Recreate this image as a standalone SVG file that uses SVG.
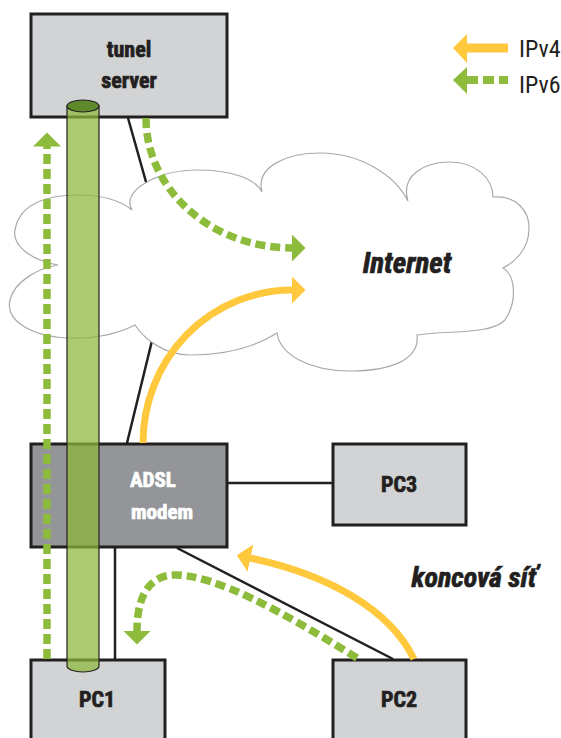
<svg xmlns="http://www.w3.org/2000/svg" width="561" height="738" viewBox="0 0 561 738">
<defs>
<style>
.box{fill:#d1d3d4;stroke:#231f20;stroke-width:3}
.modem{fill:#939598;stroke:#231f20;stroke-width:3}
.wire{fill:none;stroke:#231f20;stroke-width:2.5}
.v4{fill:none;stroke:#ffc83d;stroke-width:7}
.v6{fill:none;stroke:#8dbb3b;stroke-width:7.5;stroke-dasharray:10 5}
.lbl{font-family:"Liberation Sans Narrow","Roboto Condensed","DejaVu Sans Condensed","Liberation Sans",sans-serif;font-stretch:condensed;font-weight:bold;fill:#231f20;stroke:#231f20;stroke-width:0.7}
.wt{fill:#fff;stroke:#fff}
.it{font-style:italic}
.leg{font-family:"Liberation Sans Narrow","Roboto Condensed","DejaVu Sans Condensed","Liberation Sans",sans-serif;font-stretch:condensed;fill:#231f20;font-size:24px}
</style>
<marker id="ay" markerUnits="userSpaceOnUse" markerWidth="16" markerHeight="30" refX="0.5" refY="14" orient="auto" viewBox="0 0 16 30"><path d="M0,0 L14,14 L0,28 Z" fill="#ffc83d"/></marker>
<marker id="ag" markerUnits="userSpaceOnUse" markerWidth="16" markerHeight="30" refX="0.5" refY="14" orient="auto" viewBox="0 0 16 30"><path d="M0,0 L14,14 L0,28 Z" fill="#8dbb3b"/></marker>
</defs>
<rect width="561" height="738" fill="#fff"/>
<g id="connectors">
<polyline class="wire" points="128,118 170,267 127,443"/>
<line class="wire" x1="228" y1="483" x2="332" y2="483"/>
<line class="wire" x1="115" y1="548" x2="115" y2="659"/>
<line class="wire" x1="177" y1="548" x2="393" y2="659"/>
</g>
<g id="internet">
<path d="M132,210 C120,190 160,170 197,170 C230,170 255,178 262,192 C255,165 290,153 320,153 C360,153 395,175 408,201 C400,175 425,162 450,162 C475,162 493,178 493,197 C515,195 530,210 529,230 C528,250 515,262 503,268 C515,275 518,300 505,320 C490,335 450,330 417,335 C420,360 390,371 350,371 C310,371 280,355 277,333 C250,350 220,355 190,355 C165,355 145,340 135,325 C115,335 90,339 67,338 C30,336 5,320 10,300 C15,280 40,268 58,265 C30,260 12,245 15,230 C20,200 55,195 77,195 C100,195 120,200 132,210 Z" fill="#fff" stroke="#a7a9ac" stroke-width="1.2"/>
<text class="lbl it" x="407" y="273" font-size="29" text-anchor="middle">Internet</text>
</g>
<g id="tunel-server">
<rect class="box" x="31" y="14" width="196" height="103"/>
<text class="lbl" x="129" y="57" font-size="22" text-anchor="middle">tunel</text>
<text class="lbl" x="129" y="88" font-size="22" text-anchor="middle">server</text>
</g>
<g id="adsl-modem">
<rect class="modem" x="31" y="444" width="196" height="103"/>
<text class="lbl wt" x="130" y="487" font-size="21">ADSL</text>
<text class="lbl wt" x="131" y="519" font-size="21">modem</text>
</g>
<g id="pc3">
<rect class="box" x="333" y="444" width="133" height="81"/>
<text class="lbl" x="399" y="492" font-size="22" text-anchor="middle">PC3</text>
</g>
<g id="pc1">
<rect class="box" x="31" y="660" width="134" height="90"/>
<text class="lbl" x="97" y="707" font-size="22" text-anchor="middle">PC1</text>
</g>
<g id="pc2">
<rect class="box" x="333" y="660" width="133" height="90"/>
<text class="lbl" x="399" y="707" font-size="22" text-anchor="middle">PC2</text>
</g>
<g id="koncova-sit">
<text class="lbl it" x="474" y="587" font-size="28" text-anchor="middle">koncová síť</text>
</g>
<g id="flows">
<path class="v6" d="M146,118 A146,130 0 0 0 292,248" marker-end="url(#ag)"/>
<path class="v4" d="M143,443 A149,153 0 0 1 292,290" marker-end="url(#ay)"/>
<path class="v4" d="M414,659 C390,610 330,575 250,558" marker-end="url(#ay)"/>
<path class="v6" d="M357,658 C280,610 215,575 175,575 C150,575 137,595 137,631" marker-end="url(#ag)"/>
<path class="v6" d="M47,659 L47,146" marker-end="url(#ag)"/>
</g>
<g id="tunnel">
<path d="M67,106 L67,666 A16,6 0 0 0 99,666 L99,106 Z" fill="#8db83a" fill-opacity="0.72" stroke="#231f20" stroke-width="1.2"/>
<ellipse cx="83" cy="106" rx="16" ry="6" fill="#5e8a2c" stroke="#231f20" stroke-width="1.2"/>
</g>
<g id="legend">
<path d="M453,48 L467,34 L467,63 Z" fill="#ffc83d"/>
<line x1="466" y1="48" x2="508" y2="48" stroke="#ffc83d" stroke-width="9"/>
<text class="leg" x="519" y="57">IPv4</text>
<path d="M453,80 L467,67 L467,94 Z" fill="#8dbb3b"/>
<line x1="467" y1="80" x2="508" y2="80" stroke="#8dbb3b" stroke-width="8" stroke-dasharray="11 5"/>
<text class="leg" x="519" y="93">IPv6</text>
</g>
</svg>
